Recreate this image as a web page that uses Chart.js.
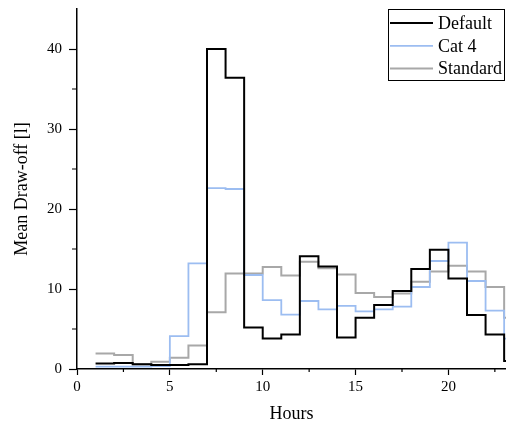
<!DOCTYPE html>
<html>
<head>
<meta charset="utf-8">
<script src="https://cdn.jsdelivr.net/npm/chart.js@4/dist/chart.umd.min.js"></script>
<style>
  html, body { margin: 0; padding: 0; background: #fff; }
  #myChart { display: block; }
</style>
</head>
<body>
<canvas id="myChart" width="506" height="425" style="width:506px;height:425px"></canvas>
<script>
// hourly mean draw-off, each value holds from its hour to the next
const hours = [1, 2, 3, 4, 5, 6, 7, 8, 9, 10, 11, 12, 13, 14, 15, 16, 17, 18, 19, 20, 21, 22, 23]
const seriesNames = ['Default', 'Cat 4', 'Standard']
const defaultVals = [0.7, 0.75, 0.6, 0.5, 0.5, 0.6, 40.0, 36.4, 5.2, 3.8, 4.3, 14.1, 12.8, 3.95, 6.4, 8.0, 9.75, 12.5, 14.9, 11.3, 6.75, 4.3, 1.0]
const cat4Vals = [0.3, 0.3, 0.3, 0.35, 4.1, 13.2, 22.6, 22.5, 11.75, 8.6, 6.8, 8.5, 7.45, 7.9, 7.2, 7.45, 7.8, 10.25, 13.5, 15.8, 11.0, 7.3, 3.8]
const standardVals = [1.95, 1.75, 0.6, 0.9, 1.4, 2.95, 7.1, 11.95, 11.95, 12.75, 11.7, 13.4, 12.6, 11.8, 9.5, 9.0, 9.45, 10.9, 12.2, 12.9, 12.2, 10.25, 6.4]
const xTicks = [0, 5, 10, 15, 20]
const yTicks = [0, 10, 20, 30, 40]
const xMinor = [2.5, 7.5, 12.5, 17.5, 22.5]
const yMinor = [5, 15, 25, 35]

const colors = ['#000000', '#9cbdf1', '#a8a8a8']
const widths = [2, 1.8, 2]
const serif = '"Liberation Serif", "Times New Roman", serif'

// points for a step line; the last hour is carried to the next one
function steps(vals) {
  let pts = []
  hours.forEach((h, i) => pts.push({x: h, y: vals[i]}))
  pts.push({x: hours[hours.length - 1] + 1, y: vals[vals.length - 1]})
  return pts
}

// minor tick marks plus the boxed legend in the top right corner
const extras = {
  id: 'extras',
  afterDraw(chart) {
    const ctx = chart.ctx
    const xs = chart.scales.x, ys = chart.scales.y
    const area = chart.chartArea
    ctx.save()
    ctx.strokeStyle = '#000'
    ctx.lineWidth = 1.2
    ctx.beginPath()
    xMinor.forEach((v) => {
      const px = xs.getPixelForValue(v)
      ctx.moveTo(px, area.bottom)
      ctx.lineTo(px, area.bottom + 3)
    })
    yMinor.forEach((v) => {
      const py = ys.getPixelForValue(v)
      ctx.moveTo(area.left, py)
      ctx.lineTo(area.left - 5, py)
    })
    ctx.stroke()

    // legend
    const lx = 388, ly = 9, lw = 117, lh = 72
    ctx.fillStyle = '#fff'
    ctx.fillRect(lx, ly, lw, lh)
    ctx.lineWidth = 1
    ctx.strokeStyle = '#000'
    ctx.strokeRect(lx + 0.5, ly + 0.5, lw - 1, lh - 1)
    ctx.font = '18px ' + serif
    ctx.textBaseline = 'middle'
    ctx.textAlign = 'left'
    seriesNames.forEach((name, i) => {
      const y = ly + 14 + i * 22.8
      ctx.strokeStyle = colors[i]
      ctx.lineWidth = widths[i]
      ctx.beginPath()
      ctx.moveTo(lx + 2, y)
      ctx.lineTo(lx + 45, y)
      ctx.stroke()
      ctx.fillStyle = '#000'
      ctx.fillText(name, lx + 50, y + 1)
    })
    ctx.restore()
  }
}

const ctx = document.getElementById('myChart').getContext('2d')
const myChart = new Chart(ctx, {
  type: 'line',
  data: {
    datasets: [
      {label: seriesNames[0], data: steps(defaultVals)},
      {label: seriesNames[1], data: steps(cat4Vals)},
      {label: seriesNames[2], data: steps(standardVals)}
    ].map((d, i) => Object.assign(d, {
      borderColor: colors[i],
      borderWidth: widths[i],
      stepped: 'before',
      pointRadius: 0,
      fill: false,
      borderJoinStyle: 'miter'
    }))
  },
  options: {
    responsive: false,
    animation: false,
    layout: { padding: { top: 9, right: 0, left: 0, bottom: 0 } },
    plugins: { legend: { display: false }, tooltip: { enabled: false } },
    scales: {
      x: {
        type: 'linear',
        min: 0,
        max: 23.1,
        afterBuildTicks: (s) => { s.ticks = xTicks.map((v) => ({value: v})) },
        afterFit: (s) => { s.height = 56; s.paddingLeft = 0; s.paddingRight = 0 },
        grid: { drawOnChartArea: false, tickLength: 6, tickColor: '#000', tickWidth: 1.2 },
        border: { color: '#000', width: 1.5 },
        ticks: { color: '#000', padding: 3, maxRotation: 0, font: { family: serif, size: 15 } },
        title: { display: true, text: 'Hours', color: '#000', padding: { top: 0, bottom: 0 }, font: { family: serif, size: 18 } }
      },
      y: {
        min: 0,
        max: 45,
        afterBuildTicks: (s) => { s.ticks = yTicks.map((v) => ({value: v})) },
        afterFit: (s) => { s.width = 77; s.paddingTop = 0; s.paddingBottom = 0 },
        grid: { drawOnChartArea: false, tickLength: 8, tickColor: '#000', tickWidth: 1.2 },
        border: { color: '#000', width: 1.5 },
        ticks: { color: '#000', padding: 7, font: { family: serif, size: 15 } },
        title: { display: true, text: 'Mean Draw-off [l]', color: '#000', padding: { top: 11, bottom: 0 }, font: { family: serif, size: 18 } }
      }
    }
  },
  plugins: [extras]
})
</script>
</body>
</html>
